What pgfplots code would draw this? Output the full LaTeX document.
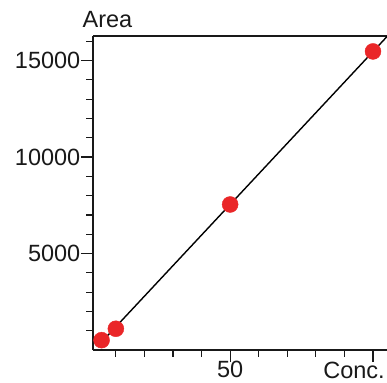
\documentclass[border=0pt]{standalone}
\usepackage{pgfplots}
\pgfplotsset{compat=1.18}
\usepackage{fontspec}
\setmainfont{Liberation Sans}
\definecolor{dotred}{RGB}{234,38,40}
\begin{document}
\fontsize{23.5}{27}\selectfont
\begin{tikzpicture}
\path[use as bounding box] (-93pt,-32pt) rectangle (294pt,350pt);
\begin{axis}[
  scale only axis, width=294pt, height=314pt,
  xmin=2, xmax=104.9, ymin=0, ymax=16270,
  axis x line*=bottom, axis y line*=left,
  axis line style={line width=1.4pt, black!90, -},
  tick align=outside,
  major tick length=12pt, minor tick length=6.5pt,
  tick style={line width=1.2pt, black!90},
  xtick={50,100}, xticklabels={50,},
  minor xtick={10,20,30,40,60,70,80,90},
  ytick={5000,10000,15000},
  minor ytick={1000,2000,3000,4000,6000,7000,8000,9000,11000,12000,13000,14000,16000},
  scaled ticks=false,
  /pgf/number format/assume math mode=true,
  /pgf/number format/1000 sep={},
  tick label style={font=\fontsize{23.5}{27}\selectfont, black!90},
  yticklabel style={inner xsep=0.5pt},
  xticklabel style={inner ysep=0pt, yshift=1pt},
  clip=false,
]
\draw[line width=1.4pt, black!90] (rel axis cs:0,1) -- (rel axis cs:1,1);
\addplot[black, line width=1.4pt] coordinates {(4,253) (104.9,16240)};
\addplot[only marks, mark=*, mark size=8pt, color=dotred, mark options={draw=dotred, fill=dotred}] coordinates {
(5,510) (10,1100) (50,7540) (100,15470)};
\node[anchor=base, text=black!90] at (rel axis cs:0.049,1) [yshift=8pt] {Area};
\node[anchor=base east, text=black!90, inner sep=0pt] at (rel axis cs:0.993,0) [yshift=-28pt] {Conc.};
\end{axis}
\end{tikzpicture}
\end{document}
